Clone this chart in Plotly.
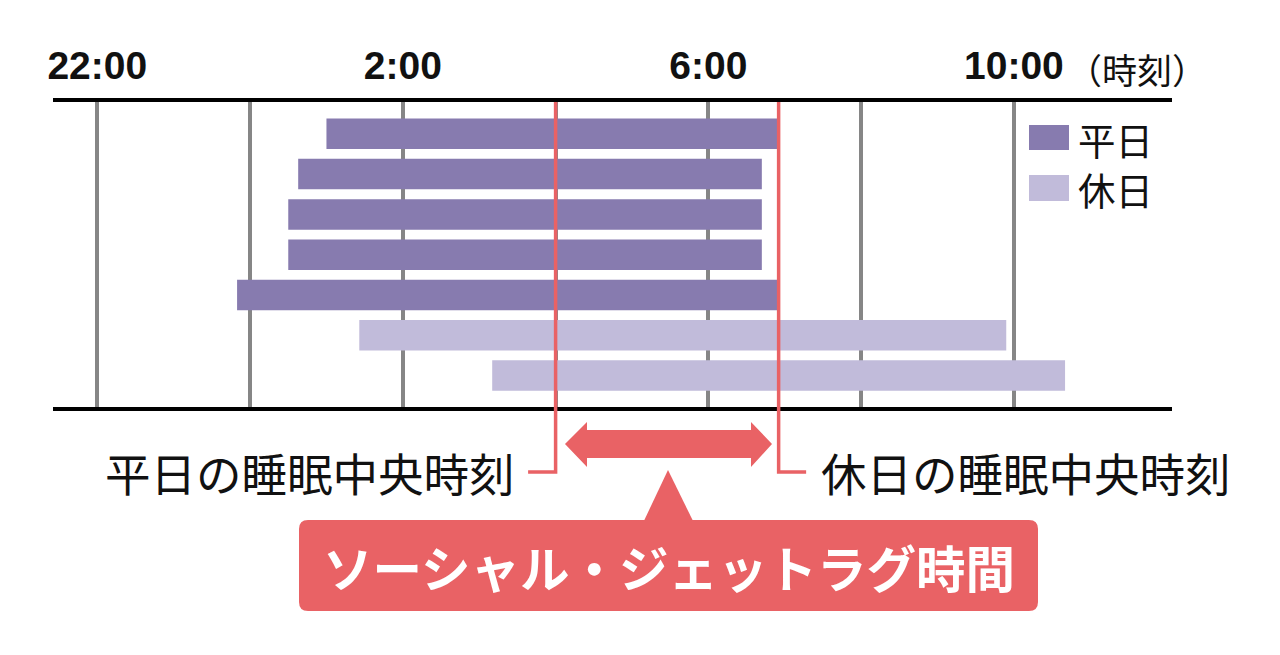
import plotly.graph_objs as go

# hours relative to midnight (22:00 = -2)
weekday_start = [1.0, 0.63, 0.5, 0.5, -0.17]
weekday_end = [6.9, 6.7, 6.7, 6.7, 6.9]
weekend_start = [1.43, 3.17]
weekend_end = [9.9, 10.67]
weekday_rows = [0, 1, 2, 3, 4]
weekend_rows = [5, 6]
weekday_mid = 4.0
weekend_mid = 6.92

tick_hours = [-2, 0, 2, 4, 6, 8, 10]
tick_labels = ["22:00", "", "2:00", "", "6:00", "", "10:00"]

dark = "#877baf"
light = "#c1bbda"
red = "#e96265"

W, H = 1280, 655
# page body has an 8px margin, so the plot area is placed in screen pixels
PAGE = 8
L, T, PW, PH = 53, 102, 1119, 305
xr = [-2.58, 12.07]
pph = PW / (xr[1] - xr[0])


def xp(px):
    return (px - L) / PW


def yp(py):
    return (T + PH - py) / PH


def path(pts):
    return "M" + "L".join(f"{xp(a):.5f},{yp(b):.5f}" for a, b in pts) + "Z"


fig = go.Figure()
fig.add_trace(go.Bar(y=weekday_rows, x=[e - s for s, e in zip(weekday_start, weekday_end)],
                     base=weekday_start, orientation="h", width=0.757, name="平日",
                     marker=dict(color=dark, line=dict(width=0)), showlegend=False))
fig.add_trace(go.Bar(y=weekend_rows, x=[e - s for s, e in zip(weekend_start, weekend_end)],
                     base=weekend_start, orientation="h", width=0.757, name="休日",
                     marker=dict(color=light, line=dict(width=0)), showlegend=False))

shapes = []
# legend swatches
shapes.append(dict(type="rect", xref="paper", yref="paper", x0=xp(1029), x1=xp(1069),
                   y0=yp(150), y1=yp(125), fillcolor=dark, line=dict(width=0)))
shapes.append(dict(type="rect", xref="paper", yref="paper", x0=xp(1029), x1=xp(1069),
                   y0=yp(201), y1=yp(175), fillcolor=light, line=dict(width=0)))

# midpoint lines with connectors
off = 27.5 / pph
yb = yp(472)
shapes.append(dict(type="path", xref="x", yref="paper", layer="above",
                   path=f"M{weekday_mid},1 L{weekday_mid},{yb} L{weekday_mid - off},{yb}",
                   line=dict(color=red, width=3.5)))
shapes.append(dict(type="path", xref="x", yref="paper", layer="above",
                   path=f"M{weekend_mid},1 L{weekend_mid},{yb} L{weekend_mid + off},{yb}",
                   line=dict(color=red, width=3.5)))

# double arrow
arrow = [(565, 444), (587, 422), (587, 430), (751, 430), (751, 422), (772, 444),
         (751, 467), (751, 458), (587, 458), (587, 467)]
shapes.append(dict(type="path", xref="paper", yref="paper", path=path(arrow),
                   fillcolor=red, line=dict(width=0)))
# pointer
shapes.append(dict(type="path", xref="paper", yref="paper",
                   path=path([(668, 470), (695, 525), (642, 525)]),
                   fillcolor=red, line=dict(width=0)))
# rounded box
bx0, bx1, by0, by1, r = 299, 1038, 520, 611, 9
box = (f"M{xp(bx0 + r)},{yp(by0)} L{xp(bx1 - r)},{yp(by0)} Q{xp(bx1)},{yp(by0)} {xp(bx1)},{yp(by0 + r)} "
       f"L{xp(bx1)},{yp(by1 - r)} Q{xp(bx1)},{yp(by1)} {xp(bx1 - r)},{yp(by1)} "
       f"L{xp(bx0 + r)},{yp(by1)} Q{xp(bx0)},{yp(by1)} {xp(bx0)},{yp(by1 - r)} "
       f"L{xp(bx0)},{yp(by0 + r)} Q{xp(bx0)},{yp(by0)} {xp(bx0 + r)},{yp(by0)} Z")
shapes.append(dict(type="path", xref="paper", yref="paper", path=box,
                   fillcolor=red, line=dict(width=0)))

jp = "Noto Sans CJK JP"
annotations = [
    dict(x=xp(1076), y=yp(138), text="平日", xanchor="left", font=dict(size=37.5)),
    dict(x=xp(1076), y=yp(188), text="休日", xanchor="left", font=dict(size=37.5)),
    dict(x=xp(517), y=yp(472), text="平日の睡眠中央時刻", xanchor="right", font=dict(size=45.5)),
    dict(x=xp(819), y=yp(472), text="休日の睡眠中央時刻", xanchor="left", font=dict(size=45.5)),
    dict(x=xp(1065), y=yp(68), text="（時刻）", xanchor="left", font=dict(size=35)),
    dict(x=xp(668.5), y=yp(566), text="ソーシャル・ジェットラグ時間", xanchor="center",
         font=dict(size=49.5, color="white", weight="bold")),
]
for a in annotations:
    a.update(xref="paper", yref="paper", yanchor="middle", showarrow=False)
    f = dict(family=jp, size=40, color="#111111")
    f.update(a.get("font", {}))
    a["font"] = f

fig.update_layout(
    width=W, height=H,
    margin=dict(l=L - PAGE, r=W - L - PW + PAGE, t=T - PAGE, b=H - T - PH + PAGE),
    paper_bgcolor="white", plot_bgcolor="white",
    barmode="overlay", showlegend=False,
    shapes=shapes, annotations=annotations,
    xaxis=dict(side="top", range=xr, tickvals=tick_hours, ticktext=tick_labels,
               showgrid=True, gridcolor="#868686", gridwidth=3.5, zeroline=False,
               showline=True, linecolor="black", linewidth=3.5, mirror=True, ticks="",
               ticklabelstandoff=4,
               tickfont=dict(family="Liberation Sans Narrow, Liberation Sans, Arial, sans-serif",
                             size=39, color="#111111", weight="bold")),
    yaxis=dict(range=[6.78, -0.79], showticklabels=False, showgrid=False,
               zeroline=False, showline=False),
)

fig.write_html("out.html")
